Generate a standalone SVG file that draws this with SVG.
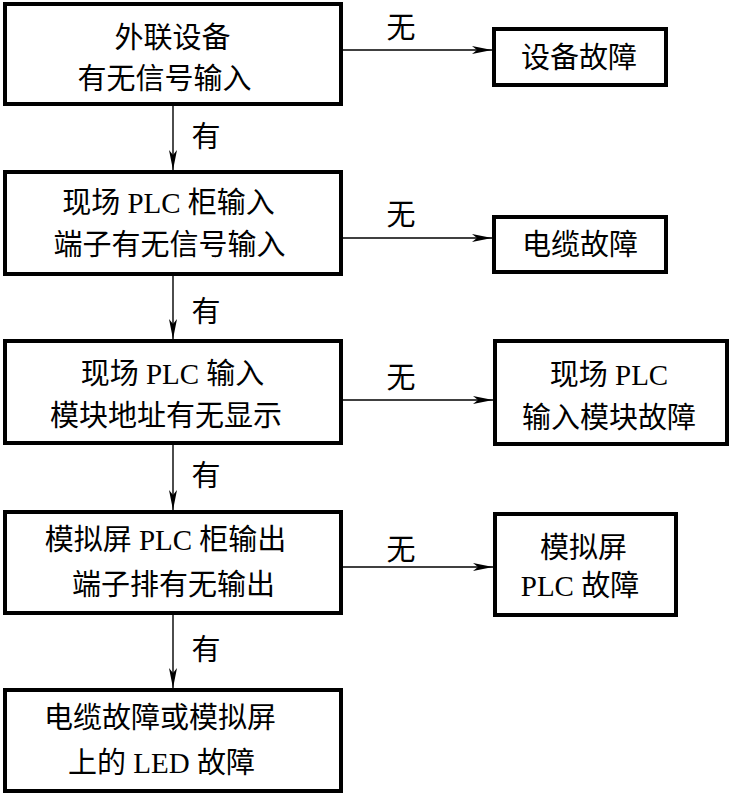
<svg xmlns="http://www.w3.org/2000/svg" width="730" height="795" viewBox="0 0 730 795">
<style>
.box{fill:#fff;stroke:#000;stroke-width:4}
.t{font-family:"Liberation Serif","Noto Sans CJK SC",serif;font-size:29px;fill:#000;text-anchor:middle}
.c{stroke:#000;stroke-width:1.4;fill:none;marker-end:url(#ah)}
</style>
<defs>
<marker id="ah" markerUnits="userSpaceOnUse" markerWidth="21" markerHeight="9" refX="20" refY="4.5" orient="auto">
<path d="M0,0.5 L20,4.5 L0,8.5 L5,4.5 Z" fill="#000"/>
</marker>
</defs>
<rect width="730" height="795" fill="#fff"/>
<g id="connectors">
<line class="c" x1="173" y1="106" x2="173" y2="170"/>
<line class="c" x1="173" y1="276" x2="173" y2="339"/>
<line class="c" x1="173" y1="445" x2="173" y2="510"/>
<line class="c" x1="173" y1="615" x2="173" y2="688"/>
<line class="c" x1="343" y1="50" x2="492" y2="50"/>
<line class="c" x1="343" y1="238" x2="492" y2="238"/>
<line class="c" x1="343" y1="400" x2="493" y2="400"/>
<line class="c" x1="343" y1="567" x2="493" y2="567"/>
<text class="t" x="206" y="147">有</text>
<text class="t" x="206" y="322">有</text>
<text class="t" x="206" y="486">有</text>
<text class="t" x="206" y="660">有</text>
<text class="t" x="401" y="38">无</text>
<text class="t" x="401" y="225">无</text>
<text class="t" x="401" y="388">无</text>
<text class="t" x="401" y="560">无</text>
</g>
<g id="n1">
<rect class="box" x="5" y="4" width="336" height="100"/>
<text class="t" x="172.5" y="48">外联设备</text>
<text class="t" x="164.5" y="89">有无信号输入</text>
</g>
<g id="n2">
<rect class="box" x="5" y="172" width="336" height="102"/>
<text class="t" x="168.5" y="213">现场 PLC 柜输入</text>
<text class="t" x="169.5" y="255">端子有无信号输入</text>
</g>
<g id="n3">
<rect class="box" x="5" y="341" width="336" height="102"/>
<text class="t" x="172.5" y="384">现场 PLC 输入</text>
<text class="t" x="166" y="426">模块地址有无显示</text>
</g>
<g id="n4">
<rect class="box" x="5" y="512" width="336" height="101"/>
<text class="t" x="165.5" y="550">模拟屏 PLC 柜输出</text>
<text class="t" x="173.5" y="595">端子排有无输出</text>
</g>
<g id="n5">
<rect class="box" x="5" y="690" width="336" height="101"/>
<text class="t" x="160" y="728">电缆故障或模拟屏</text>
<text class="t" x="161.5" y="773">上的 LED 故障</text>
</g>
<g id="r1">
<rect class="box" x="494" y="29" width="172" height="56"/>
<text class="t" x="579" y="68">设备故障</text>
</g>
<g id="r2">
<rect class="box" x="494" y="217" width="172" height="55"/>
<text class="t" x="580" y="255">电缆故障</text>
</g>
<g id="r3">
<rect class="box" x="495" y="341" width="232" height="103"/>
<text class="t" x="609" y="385">现场 PLC</text>
<text class="t" x="609" y="428">输入模块故障</text>
</g>
<g id="r4">
<rect class="box" x="495" y="514" width="181" height="101"/>
<text class="t" x="583.5" y="558">模拟屏</text>
<text class="t" x="580" y="596">PLC 故障</text>
</g>
</svg>
